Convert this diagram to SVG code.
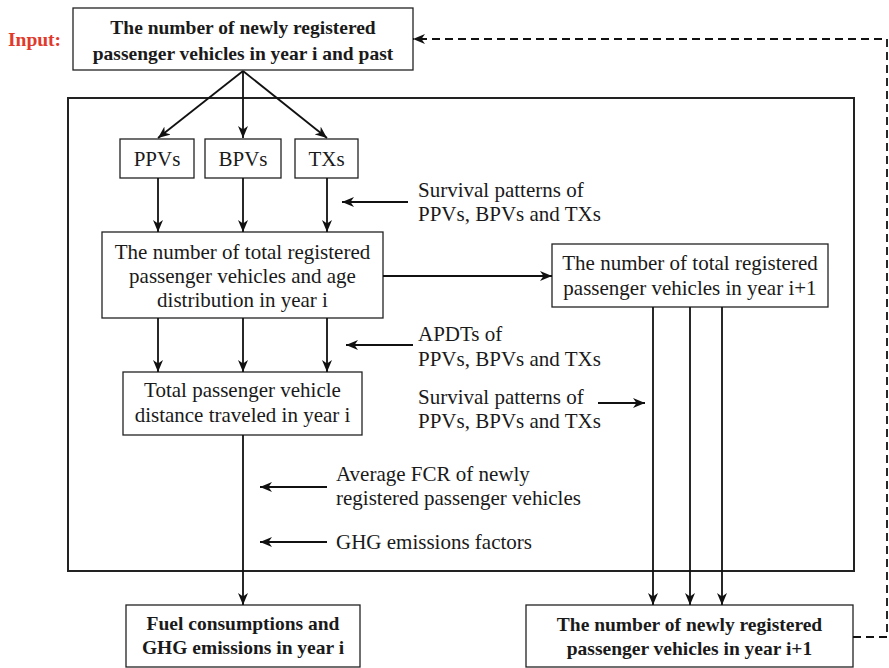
<svg xmlns="http://www.w3.org/2000/svg" width="889" height="668" viewBox="0 0 889 668">
  <defs>
    <marker id="ah" viewBox="0 0 12 10" refX="12" refY="5" markerWidth="12" markerHeight="10" orient="auto" markerUnits="userSpaceOnUse">
      <path d="M0,0 L12,5 L0,10 L3.5,5 Z" fill="#111"/>
    </marker>
  </defs>
  <style>
    .box { fill: #fff; stroke: #222; stroke-width: 1.3; }
    .frame { fill: none; stroke: #222; stroke-width: 2; }
    .t { font-family: "Liberation Serif", "Times New Roman", serif; font-size: 21px; fill: #1a1a1a; }
    .b { font-family: "Liberation Serif", "Times New Roman", serif; font-size: 19.5px; font-weight: bold; fill: #1a1a1a; }
    .c { text-anchor: middle; }
    .red { fill: #e03a2c; }
    .con { fill: none; stroke: #111; stroke-width: 1.8; }
    .arr { marker-end: url(#ah); }
    .dash { fill: none; stroke: #111; stroke-width: 1.8; stroke-dasharray: 8 5; }
  </style>

  <rect id="frame" class="frame" x="68" y="98" width="786" height="473"/>

  <text id="input-label" class="b red" x="8" y="46">Input:</text>

  <g id="node-new-i">
    <rect class="box" x="73" y="8" width="340" height="62"/>
    <text class="b c" x="243" y="34">The number of newly registered</text>
    <text class="b c" x="243" y="60">passenger vehicles in year i and past</text>
  </g>

  <g id="node-ppvs">
    <rect class="box" x="120" y="139" width="74" height="39"/>
    <text class="t c" x="157" y="166">PPVs</text>
  </g>
  <g id="node-bpvs">
    <rect class="box" x="205" y="139" width="76" height="39"/>
    <text class="t c" x="243" y="166">BPVs</text>
  </g>
  <g id="node-txs">
    <rect class="box" x="295" y="139" width="63" height="39"/>
    <text class="t c" x="326.5" y="166">TXs</text>
  </g>

  <g id="node-total-i">
    <rect class="box" x="102" y="232" width="281" height="86"/>
    <text class="t c" x="242.5" y="259">The number of total registered</text>
    <text class="t c" x="242.5" y="283">passenger vehicles and age</text>
    <text class="t c" x="242.5" y="307">distribution in year i</text>
  </g>

  <g id="node-total-i1">
    <rect class="box" x="552" y="244" width="276" height="63"/>
    <text class="t c" x="690" y="270">The number of total registered</text>
    <text class="t c" x="690" y="295">passenger vehicles in year i+1</text>
  </g>

  <g id="node-distance">
    <rect class="box" x="123" y="372" width="239" height="63"/>
    <text class="t c" x="242.5" y="397">Total passenger vehicle</text>
    <text class="t c" x="242.5" y="422">distance traveled in year i</text>
  </g>

  <g id="node-fuel">
    <rect class="box" x="126" y="605" width="234" height="62"/>
    <text class="b c" x="243" y="630">Fuel consumptions and</text>
    <text class="b c" x="243" y="654">GHG emissions in year i</text>
  </g>

  <g id="node-new-i1">
    <rect class="box" x="526" y="605" width="327" height="62"/>
    <text class="b c" x="689.5" y="631">The number of newly registered</text>
    <text class="b c" x="689.5" y="655">passenger vehicles in year i+1</text>
  </g>

  <g id="label-survival-1">
    <text class="t" x="418" y="197">Survival patterns of</text>
    <text class="t" x="418" y="221">PPVs, BPVs and TXs</text>
  </g>
  <g id="label-apdts">
    <text class="t" x="418" y="341">APDTs of</text>
    <text class="t" x="418" y="366">PPVs, BPVs and TXs</text>
  </g>
  <g id="label-survival-2">
    <text class="t" x="418" y="404">Survival patterns of</text>
    <text class="t" x="418" y="428">PPVs, BPVs and TXs</text>
  </g>
  <g id="label-fcr">
    <text class="t" x="336" y="481">Average FCR of newly</text>
    <text class="t" x="336" y="505">registered passenger vehicles</text>
  </g>
  <g id="label-ghg">
    <text class="t" x="336" y="549">GHG emissions factors</text>
  </g>

  <g id="connectors">
    <line class="con arr" x1="243" y1="71" x2="158" y2="138"/>
    <line class="con arr" x1="243" y1="71" x2="243" y2="138"/>
    <line class="con arr" x1="243" y1="71" x2="327" y2="138"/>

    <line class="con arr" x1="158" y1="178" x2="158" y2="232"/>
    <line class="con arr" x1="243" y1="178" x2="243" y2="232"/>
    <line class="con arr" x1="327" y1="178" x2="327" y2="232"/>

    <line class="con arr" x1="408" y1="202" x2="342" y2="202"/>

    <line class="con arr" x1="383" y1="276" x2="552" y2="276"/>

    <line class="con arr" x1="158" y1="318" x2="158" y2="372"/>
    <line class="con arr" x1="243" y1="318" x2="243" y2="372"/>
    <line class="con arr" x1="327" y1="318" x2="327" y2="372"/>

    <line class="con arr" x1="413" y1="345" x2="346" y2="345"/>

    <line class="con arr" x1="598" y1="403" x2="645" y2="403"/>

    <line class="con arr" x1="653" y1="307" x2="653" y2="605"/>
    <line class="con arr" x1="690" y1="307" x2="690" y2="605"/>
    <line class="con arr" x1="722" y1="307" x2="722" y2="605"/>

    <line class="con arr" x1="243" y1="435" x2="243" y2="605"/>

    <line class="con arr" x1="327" y1="487" x2="260" y2="487"/>
    <line class="con arr" x1="327" y1="542" x2="260" y2="542"/>

    <path class="dash arr" d="M853,637 H887 V39 H413"/>
  </g>
</svg>
